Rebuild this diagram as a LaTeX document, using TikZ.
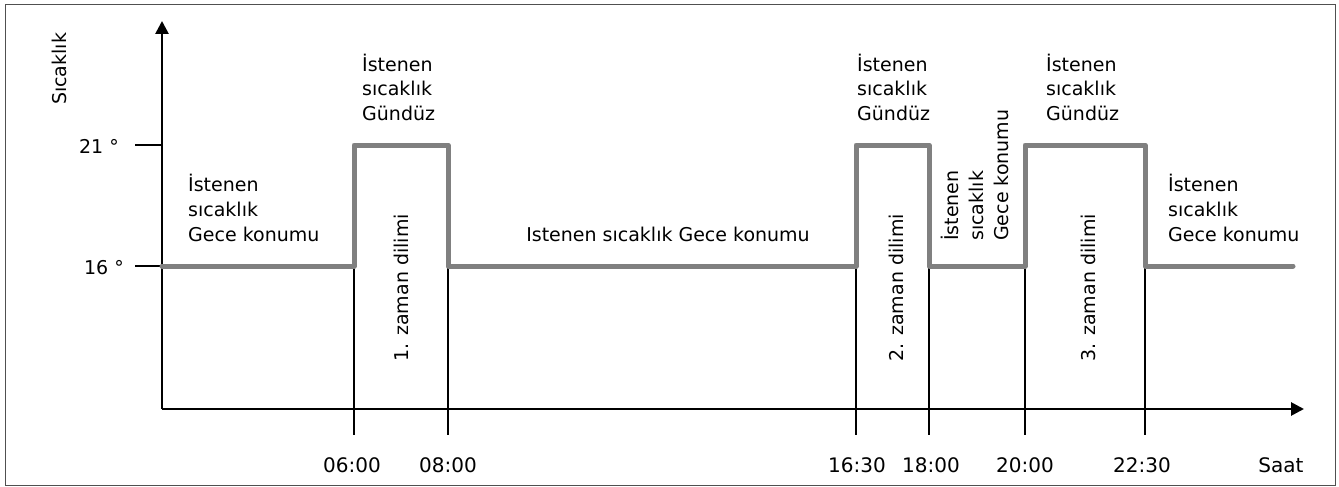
\documentclass[tikz,border=0pt]{standalone}
\usepackage{fontspec}
\setmainfont{DejaVu Sans}
\usetikzlibrary{arrows.meta}
\definecolor{pulsegray}{HTML}{808080}
\definecolor{framegray}{HTML}{505050}
\begin{document}
\begin{tikzpicture}[x=1pt,y=-1pt,
  font=\fontsize{19}{25}\selectfont,
  pulse/.style={line width=5pt, draw=pulsegray, line join=round, line cap=round},
  axisline/.style={line width=2.7pt, -{Triangle[length=13pt,width=13pt]}},
  tickline/.style={line width=2pt},
  guide/.style={line width=1.1pt},
  lbl/.style={inner sep=0pt, align=left},
  ticklbl/.style={inner sep=0pt, anchor=base, font=\fontsize{20}{24}\selectfont}]
\useasboundingbox (0,0) rectangle (1339,487);
\draw[framegray, line width=1.3pt] (5.5,4.5) rectangle (1335.5,485.3);

% axes
\coordinate (O) at (162,409);
\coordinate (ytop) at (162,21);
\coordinate (xend) at (1304,409);

% y ticks
\coordinate (t21a) at (135,145);
\coordinate (t21b) at (162,145);
\coordinate (t16a) at (135,266);
\coordinate (t16b) at (162,266);
\draw[tickline] (t21a) -- (t21b);
\draw[tickline] (t16a) -- (t16b);
\node[inner sep=0pt, anchor=base east] (l21) at (119,153) {21 °};
\node[inner sep=0pt, anchor=base east] (l16) at (124,274) {16 °};
\node[inner sep=0pt, rotate=90, anchor=base west] (ylab) at (66,105) {Sıcaklık};

% pulse profile
\coordinate (p0) at (162,266);
\coordinate (p1) at (354,266);
\coordinate (p2) at (354,145);
\coordinate (p3) at (448,145);
\coordinate (p4) at (448,266);
\coordinate (p5) at (856,266);
\coordinate (p6) at (856,145);
\coordinate (p7) at (929,145);
\coordinate (p8) at (929,266);
\coordinate (p9) at (1025,266);
\coordinate (p10) at (1025,145);
\coordinate (p11) at (1145,145);
\coordinate (p12) at (1145,266);
\coordinate (p13) at (1293,266);

% guide lines down to ticks
\foreach \p/\x in {p1/354,p4/448,p5/856,p8/929,p9/1025,p12/1145}{
  \coordinate (a\p) at (\x,409);
  \coordinate (b\p) at (\x,435);
  \draw[guide] (\p) -- (a\p);
  \draw[tickline] (a\p) -- (b\p);
}
\draw[axisline] (O) -- (ytop);
\draw[axisline] (O) -- (xend);
\draw[pulse] (p0) -- (p1) -- (p2) -- (p3) -- (p4) -- (p5) -- (p6) -- (p7) -- (p8) -- (p9) -- (p10) -- (p11) -- (p12) -- (p13);

% time labels
\node[ticklbl] (h1) at (352,472) {06:00};
\node[ticklbl] (h2) at (448,472) {08:00};
\node[ticklbl] (h3) at (857,472) {16:30};
\node[ticklbl] (h4) at (931,472) {18:00};
\node[ticklbl] (h5) at (1025,472) {20:00};
\node[ticklbl] (h6) at (1142,472) {22:30};
\node[ticklbl] (saat) at (1281,472) {Saat};

% texts (base anchor = baseline of last line)
\node[lbl, anchor=base west] (n1) at (188,241) {İstenen\\sıcaklık\\Gece konumu};
\node[lbl, anchor=base west] (d1) at (362,121) {İstenen\\sıcaklık\\Gündüz};
\node[lbl, anchor=base] (n2) at (668,241) {Istenen sıcaklık Gece konumu};
\node[lbl, anchor=base west] (d2) at (857,121) {İstenen\\sıcaklık\\Gündüz};
\node[lbl, anchor=base west] (d3) at (1046,121) {İstenen\\sıcaklık\\Gündüz};
\node[lbl, anchor=base west] (n4) at (1168,241) {İstenen\\sıcaklık\\Gece konumu};
\node[lbl, rotate=90, anchor=north west] (n3) at (941,241) {İstenen\\sıcaklık\\Gece konumu};

\node[inner sep=0pt, rotate=90, anchor=base west] (z1) at (408,362) {1. zaman dilimi};
\node[inner sep=0pt, rotate=90, anchor=base west] (z2) at (903,362) {2. zaman dilimi};
\node[inner sep=0pt, rotate=90, anchor=base west] (z3) at (1095,362) {3. zaman dilimi};
\end{tikzpicture}
\end{document}
